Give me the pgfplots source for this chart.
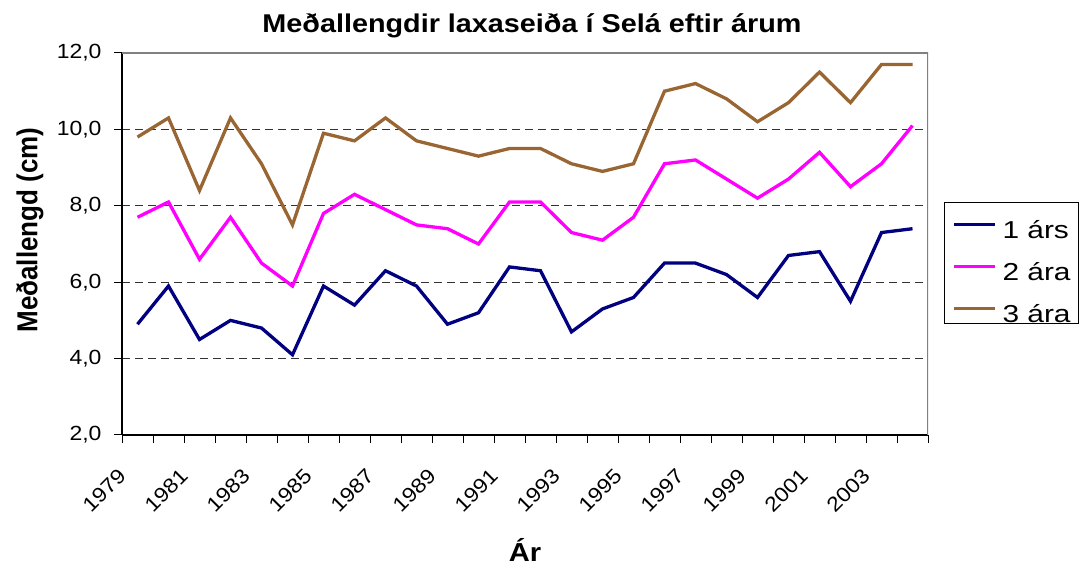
\documentclass[border=0pt]{standalone}
\usepackage{fontspec}
\usepackage{graphicx}
\setmainfont{Liberation Sans}[FakeStretch=1.12]
\newfontfamily\plainfont{Liberation Sans}
\newfontfamily\legfont{Liberation Sans}[FakeStretch=1.22]
\usepackage{pgfplots}
\usepackage{pgfplotstable}
\pgfplotsset{compat=1.18}
\definecolor{navyc}{RGB}{0,0,128}
\definecolor{magc}{RGB}{255,0,255}
\definecolor{brownc}{RGB}{153,102,51}
\definecolor{framegrey}{RGB}{128,128,128}

\pgfplotstableread{
i  year  a    b    c
0  1979  4.9  7.7  9.8
1  1980  5.9  8.1  10.3
2  1981  4.5  6.6  8.4
3  1982  5.0  7.7  10.3
4  1983  4.8  6.5  9.1
5  1984  4.1  5.9  7.5
6  1985  5.9  7.8  9.9
7  1986  5.4  8.3  9.7
8  1987  6.3  7.9  10.3
9  1988  5.9  7.5  9.7
10 1989  4.9  7.4  9.5
11 1990  5.2  7.0  9.3
12 1991  6.4  8.1  9.5
13 1992  6.3  8.1  9.5
14 1993  4.7  7.3  9.1
15 1994  5.3  7.1  8.9
16 1995  5.6  7.7  9.1
17 1996  6.5  9.1  11.0
18 1997  6.5  9.2  11.2
19 1998  6.2  8.7  10.8
20 1999  5.6  8.2  10.2
21 2000  6.7  8.7  10.7
22 2001  6.8  9.4  11.5
23 2002  5.5  8.5  10.7
24 2003  7.3  9.1  11.7
25 2004  7.4  10.1 11.7
}\datatable

\begin{document}
\begin{tikzpicture}[x=1pt,y=1pt]
\useasboundingbox (0,0) rectangle (1082,565);
\begin{axis}[
  at={(122pt,130pt)}, anchor=south west,
  scale only axis, width=806pt, height=382pt,
  xmin=-0.5, xmax=25.5, ymin=2, ymax=12,
  axis x line*=bottom, axis y line*=left,
  axis line style={-, black, line width=1.3pt},
  xtick={0,2,...,24},
  xticklabels={1979,1981,1983,1985,1987,1989,1991,1993,1995,1997,1999,2001,2003},
  minor xtick={-0.5,0.5,...,25.5},
  major x tick style={draw=none},
  minor x tick style={black, line width=1pt},
  minor tick length=8pt,
  ytick={2,4,...,12},
  major tick length=8pt,
  y tick style={black, line width=1pt},
  tick align=outside,
  ymajorgrids,
  major grid style={black!80, line width=0.9pt, dash pattern=on 8pt off 5pt},
  /pgf/number format/.cd, fixed, fixed zerofill, precision=1, use comma, assume math mode=true,
  /pgfplots/.cd,
  yticklabel style={font=\fontsize{20.5}{20.5}\selectfont, xshift=-9pt},
  xticklabel style={font=\fontsize{20.5}{20.5}\selectfont, xshift=-15pt, yshift=-29pt, rotate=45, anchor=east, inner sep=0pt},
  legend style={at={(axis description cs:1.01985,0.60995)}, anchor=north west,
    draw=black, line width=1pt, fill=white,
    font=\legfont\fontsize{24.5}{24.5}\selectfont,
    inner xsep=8pt, inner ysep=0pt, row sep=5pt, column sep=6pt,
    nodes={inner xsep=0pt, inner ysep=0pt, text height=36pt, text depth=1pt},
    legend cell align=left},
  legend image code/.code={\draw[#1, line width=3pt] (0pt,-3.5pt) -- (41pt,-3.5pt);},
  every axis plot/.append style={line width=3.3pt},
]
\draw[framegrey, line width=1.3pt] (rel axis cs:0,1) -- (rel axis cs:1,1) -- (rel axis cs:1,0);
\addplot[navyc, no markers] table[x=i, y=a] {\datatable};
\addlegendentry{1 árs}
\addplot[magc, no markers] table[x=i, y=b] {\datatable};
\addlegendentry{2 ára}
\addplot[brownc, no markers] table[x=i, y=c] {\datatable};
\addlegendentry{3 ára}
\end{axis}
\node[anchor=base, font=\fontsize{25.7}{25.7}\selectfont\bfseries] at (532,532) {Meðallengdir laxaseiða í Selá eftir árum};
\node[anchor=base, rotate=90, font=\plainfont\fontsize{26}{26}\selectfont\bfseries] at (37.5,335) {\scalebox{1}[1.11]{Meðallengd (cm)}};
\node[anchor=base, inner sep=0pt, font=\fontsize{26}{26}\selectfont\bfseries] at (525,3.5) {Ár};
\end{tikzpicture}
\end{document}
